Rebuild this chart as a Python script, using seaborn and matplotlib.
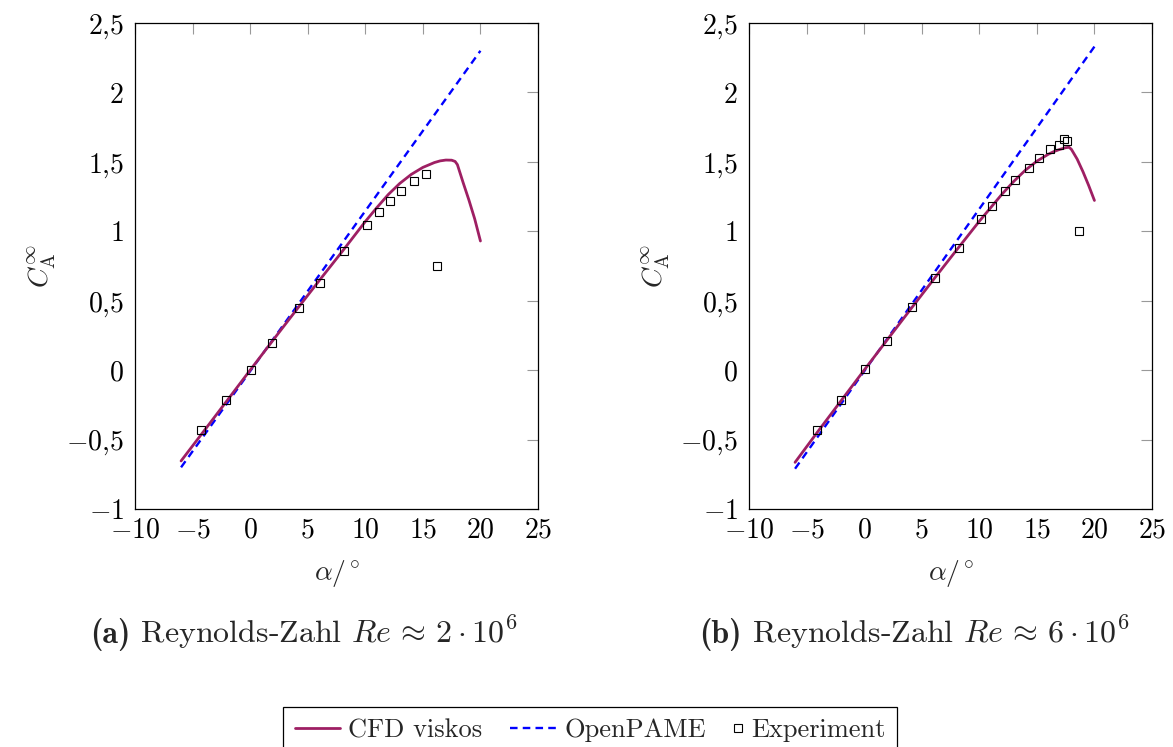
import matplotlib
matplotlib.use("Agg")
import matplotlib.pyplot as plt
import seaborn as sns
import pandas as pd
from matplotlib.lines import Line2D
from matplotlib.legend_handler import HandlerBase

# ---- data ----
alpha_cfd_a = [-6, -4, -2, 0, 2, 4, 6, 8, 10, 11, 12, 13, 14, 15, 16, 16.5, 17, 17.5, 17.8, 18, 18.5, 19, 19.5, 20]
cfd_a = [-0.654, -0.437, -0.219, 0.0, 0.217, 0.432, 0.645, 0.855, 1.07, 1.17, 1.265, 1.345, 1.41, 1.46,
         1.495, 1.507, 1.513, 1.512, 1.503, 1.48, 1.35, 1.225, 1.09, 0.93]
alpha_pame_a = [-6, 20]
pame_a = [-0.70, 2.30]
alpha_exp_a = [-4.24, -2.07, 0.04, 1.86, 4.27, 6.06, 8.17, 10.14, 11.15, 12.11, 13.12, 14.25, 15.26, 16.24]
exp_a = [-0.428, -0.216, 0.0, 0.197, 0.447, 0.625, 0.858, 1.046, 1.138, 1.219, 1.291, 1.364, 1.409, 0.753]

alpha_cfd_b = [-6, -4, -2, 0, 2, 4, 6, 8, 10, 12, 13, 14, 15, 16, 16.5, 17, 17.5, 17.8, 18.0, 18.5, 19, 19.5, 20]
cfd_b = [-0.664, -0.44, -0.22, 0.0, 0.218, 0.435, 0.65, 0.862, 1.072, 1.27, 1.36, 1.44, 1.505, 1.555,
         1.575, 1.59, 1.602, 1.605, 1.59, 1.52, 1.43, 1.33, 1.222]
alpha_pame_b = [-6, 20]
pame_b = [-0.71, 2.33]
alpha_exp_b = [-4.07, -1.98, 0.04, 1.98, 4.15, 6.17, 8.20, 10.16, 11.07, 12.25, 13.12, 14.28, 15.2, 16.16,
               16.88, 17.32, 17.6, 18.65]
exp_b = [-0.428, -0.216, 0.005, 0.209, 0.452, 0.664, 0.880, 1.089, 1.181, 1.291, 1.368, 1.457, 1.527, 1.592,
         1.623, 1.664, 1.647, 1.005]

xticks = [-10, -5, 0, 5, 10, 15, 20, 25]
xticklabels = ["$-10$", "$-5$", "$0$", "$5$", "$10$", "$15$", "$20$", "$25$"]
yticks = [-1, -0.5, 0, 0.5, 1, 1.5, 2, 2.5]
yticklabels = ["$-1$", "$-0{,}5$", "$0$", "$0{,}5$", "$1$", "$1{,}5$", "$2$", "$2{,}5$"]
caption_tags = ["(a)", "(b)"]
caption_texts = [r" Reynolds-Zahl $Re \,\approx\, 2\cdot 10^6$",
                 r" Reynolds-Zahl $Re \,\approx\, 6\cdot 10^6$"]
series_names = ["CFD viskos", "OpenPAME", "Experiment"]

# ---- style ----
sns.set_style("white")
plt.rcParams["font.family"] = ["cmr10", "DejaVu Serif"]
plt.rcParams["mathtext.fontset"] = "cm"
plt.rcParams["axes.unicode_minus"] = False
plt.rcParams["axes.formatter.use_mathtext"] = True

FS = 20        # ticks / axis labels
FS_LEG = 19    # legend
FS_CAP = 23    # sub-captions
PURPLE = "#9E1F63"
BLUE = "#0000FF"

fig = plt.figure(figsize=(11.73, 7.47), dpi=100)
W, H = 1173, 747
ax_a = fig.add_axes([135 / W, 1 - 509 / H, 403 / W, 486 / H])
ax_b = fig.add_axes([749 / W, 1 - 509 / H, 403 / W, 486 / H])

datasets = [
    (ax_a, alpha_cfd_a, cfd_a, alpha_pame_a, pame_a, alpha_exp_a, exp_a),
    (ax_b, alpha_cfd_b, cfd_b, alpha_pame_b, pame_b, alpha_exp_b, exp_b),
]

for ax, xc, yc, xp, yp, xe, ye in datasets:
    dfc = pd.DataFrame({"alpha": xc, "ca": yc})
    dfp = pd.DataFrame({"alpha": xp, "ca": yp})
    dfe = pd.DataFrame({"alpha": xe, "ca": ye})
    sns.lineplot(data=dfc, x="alpha", y="ca", ax=ax, color=PURPLE, lw=2.0,
                 sort=False, estimator=None, solid_joinstyle="round", zorder=3)
    sns.lineplot(data=dfp, x="alpha", y="ca", ax=ax, color=BLUE, lw=1.7,
                 sort=False, estimator=None, dashes=False, zorder=2)
    ax.lines[-1].set_dashes((3.2, 2.2))
    ax.plot(dfe["alpha"], dfe["ca"], ls="none", marker="s", ms=5.9, mfc="none",
            mec="black", mew=0.8, zorder=4)

    ax.set_xlim(-10, 25)
    ax.set_ylim(-1, 2.5)
    ax.set_xticks(xticks)
    ax.set_xticklabels(xticklabels, fontsize=FS)
    ax.set_yticks(yticks)
    ax.set_yticklabels(yticklabels, fontsize=FS)
    ax.tick_params(axis="both", which="major", direction="in", length=7.7, width=0.8,
                   color="#999999", top=True, right=True, labelcolor="black")
    ax.tick_params(axis="x", pad=6)
    ax.tick_params(axis="y", pad=8)
    for s in ax.spines.values():
        s.set_color("black")
        s.set_linewidth(0.9)
    ax.set_xlabel(r"$\alpha/^{\circ}$", fontsize=FS, labelpad=10)
    ax.set_ylabel(r"$C_{\mathrm{A}}^{\infty}$", fontsize=FS, labelpad=5)

# captions: bold tag + regular text
for cx0, tag, txt in [(90 / W, caption_tags[0], caption_texts[0]),
                      (699 / W, caption_tags[1], caption_texts[1])]:
    t = fig.text(cx0, 1 - 643 / H, tag, ha="left", va="baseline", fontsize=FS_CAP, family="cmb10")
    ax_a.annotate(txt, xy=(1, 0), xycoords=t, xytext=(0, 0), textcoords="offset points",
                  ha="left", va="bottom", fontsize=FS_CAP, annotation_clip=False)


class LeftMarkerHandler(HandlerBase):
    def create_artists(self, legend, orig_handle, xdescent, ydescent, width, height,
                       fontsize, trans):
        m = Line2D([-xdescent + 3.2], [height / 2 - ydescent], ls="none",
                   marker=orig_handle.get_marker(), ms=orig_handle.get_markersize(),
                   mfc="none", mec="black", mew=orig_handle.get_markeredgewidth())
        m.set_transform(trans)
        return [m]


exp_handle = Line2D([], [], ls="none", marker="s", ms=5.2, mfc="none", mec="black", mew=0.8)
handles = [
    Line2D([], [], color=PURPLE, lw=2.0),
    Line2D([], [], color=BLUE, lw=1.7, dashes=(3.2, 2.2)),
    exp_handle,
]
leg = fig.legend(handles, series_names, loc="upper center", bbox_to_anchor=(590 / W, 1 - 706.5 / H),
                 ncol=3, fontsize=FS_LEG, frameon=True, fancybox=False, framealpha=1,
                 edgecolor="black", handlelength=1.74, handletextpad=0.3, columnspacing=1.05,
                 borderpad=0.45, borderaxespad=0,
                 handler_map={exp_handle: LeftMarkerHandler()})
leg.get_frame().set_linewidth(0.9)

# shrink the handle box of the marker-only entry so the marker sits next to its text
try:
    cols = leg._legend_handle_box.get_children()
    entry = cols[2].get_children()[0]
    da = entry.get_children()[0]
    da.width = 7.0
except Exception:
    pass

fig.savefig("out.png", dpi=100)
